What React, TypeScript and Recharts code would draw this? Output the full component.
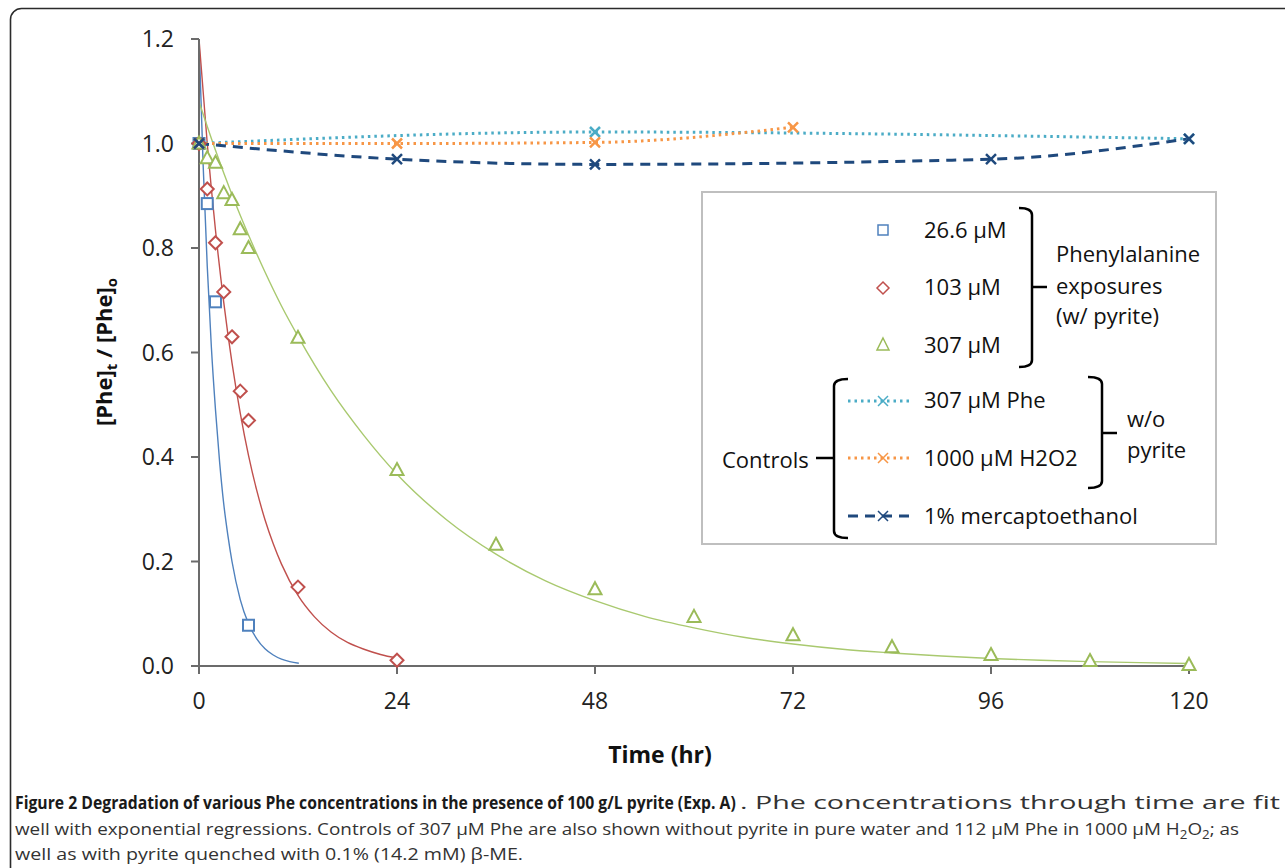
import React from 'react';
import { ComposedChart, Line, Scatter, XAxis, YAxis } from 'recharts';

// ---- Data ----
const xTicks = [0, 24, 48, 72, 96, 120];
const yTicks = [0, 0.2, 0.4, 0.6, 0.8, 1.0, 1.2];

// Observed points, w/ pyrite
const obsT26 = [0, 1, 2, 6];
const obsV26 = [1.0, 0.885, 0.697, 0.078];
const obsT103 = [0, 1, 2, 3, 4, 5, 6, 12, 24];
const obsV103 = [1.0, 0.913, 0.81, 0.716, 0.63, 0.526, 0.47, 0.151, 0.011];
const obsT307 = [0, 1, 2, 3, 4, 5, 6, 12, 24, 36, 48, 60, 72, 84, 96, 108, 120];
const obsV307 = [1.0, 0.972, 0.963, 0.905, 0.892, 0.836, 0.8, 0.628, 0.375, 0.232, 0.147, 0.094, 0.059, 0.036, 0.021, 0.0096, 0.002];

// Fitted (exponential) trend curves
const fitT26 = [0, 0.5, 1, 1.5, 2, 2.5, 3, 3.5, 4, 5, 6, 7, 8, 9, 10, 11, 12.1];
const fitV26 = [1.2, 0.96, 0.765, 0.61, 0.49, 0.39, 0.31, 0.25, 0.2, 0.127, 0.081, 0.052, 0.033, 0.021, 0.013, 0.0085, 0.0052];
const fitT103 = [0, 1, 2, 3, 4, 5, 6, 7, 8, 9, 10, 12, 14, 16, 18, 20, 22, 24];
const fitV103 = [1.2, 1.0, 0.834, 0.696, 0.58, 0.484, 0.403, 0.336, 0.28, 0.234, 0.195, 0.135, 0.094, 0.065, 0.045, 0.032, 0.022, 0.015];
const fitT307 = [0, 2, 4, 6, 8, 10, 12, 16, 20, 24, 30, 36, 42, 48, 54, 60, 66, 72, 78, 84, 90, 96, 102, 108, 114, 120];
const fitV307 = [1.08, 0.987, 0.902, 0.825, 0.754, 0.689, 0.631, 0.527, 0.441, 0.367, 0.28, 0.214, 0.163, 0.125, 0.095, 0.073, 0.055, 0.042, 0.032, 0.025, 0.019, 0.0143, 0.011, 0.0084, 0.0064, 0.0049];

// Controls (w/o pyrite, and with mercaptoethanol)
const ctrlPheT = [0, 48, 120];
const ctrlPheV = [1.0, 1.022, 1.009];
const ctrlH2O2T = [0, 24, 48, 72];
const ctrlH2O2V = [1.0, 1.0, 1.002, 1.031];
const ctrlMeT = [0, 24, 48, 96, 120];
const ctrlMeV = [1.0, 0.97, 0.96, 0.97, 1.009];

const zip = (ts: number[], vs: number[]) => ts.map((t, i) => ({ t, y: vs[i] }));

const C_BLUE = '#4f81bd';
const C_RED = '#c0504d';
const C_GREEN = '#9bbb59';
const C_LBLUE = '#4bacc6';
const C_ORANGE = '#f79646';
const C_DBLUE = '#1f497d';

const FONT = '"Open Sans", "Noto Sans", sans-serif';

const squareShape = (p: any) => {
  const { cx, cy } = p;
  if (cx == null || cy == null) return <g />;
  return <rect x={cx - 5.5} y={cy - 5.5} width={11} height={11} fill="#fff" stroke={C_BLUE} strokeWidth={2} />;
};
const diamondShape = (p: any) => {
  const { cx, cy } = p;
  if (cx == null || cy == null) return <g />;
  const r = 6.5;
  return <path d={`M${cx} ${cy - r}L${cx + r} ${cy}L${cx} ${cy + r}L${cx - r} ${cy}Z`} fill="#fff" stroke={C_RED} strokeWidth={2} />;
};
const triangleShape = (p: any) => {
  const { cx, cy } = p;
  if (cx == null || cy == null) return <g />;
  return <path d={`M${cx} ${cy - 7}L${cx + 6.5} ${cy + 5}L${cx - 6.5} ${cy + 5}Z`} fill="#fff" stroke={C_GREEN} strokeWidth={2} />;
};

const XMark = ({ cx, cy, color, s = 5, w = 2.5 }: any) => (
  <path d={`M${cx - s} ${cy - s}L${cx + s} ${cy + s}M${cx - s} ${cy + s}L${cx + s} ${cy - s}`} stroke={color} strokeWidth={w} fill="none" />
);

const xDot = (color: string) => (p: any) => {
  if (p.cx == null || p.cy == null) return <g key={p.key ?? p.index} />;
  return <XMark key={p.key ?? p.index} cx={p.cx} cy={p.cy} color={color} />;
};

const axisStyle = { stroke: '#6b6b6b', strokeWidth: 2 };
const tickStyle = { fill: '#222', fontSize: 23, fontFamily: FONT };

const Overlay = () => {
  const lt = { fontFamily: FONT, fontSize: 22, fill: '#111' } as any;
  const br = { stroke: '#000', strokeWidth: 2.5, fill: 'none' } as any;
  return (
    <svg width={1285} height={868} style={{ position: 'absolute', left: 0, top: 0, pointerEvents: 'none' }}>
      <rect x={10.5} y={8.5} width={1320} height={920} rx={11} fill="none" stroke="#2b2b2b" strokeWidth={1.6} />
      {/* axis titles */}
      <text transform="translate(112,352) rotate(-90)" textAnchor="middle" fontFamily={FONT} fontWeight={700} fontSize={22} fill="#111">
        [Phe]<tspan fontSize={15} dy={5}>t</tspan><tspan dy={-5}> / [Phe]</tspan><tspan fontSize={15} dy={5}>o</tspan>
      </text>
      <text x={660} y={763} textAnchor="middle" fontFamily={FONT} fontWeight={700} fontSize={23} fill="#111">Time (hr)</text>

      {/* legend box */}
      <rect x={702} y={192} width={514} height={352} fill="#fff" stroke="#bfbfbf" strokeWidth={2} />
      <rect x={878} y={225} width={10} height={10} fill="#fff" stroke={C_BLUE} strokeWidth={1.5} />
      <path d="M883 282L889 288L883 294L877 288Z" fill="#fff" stroke={C_RED} strokeWidth={1.5} />
      <path d="M883 338L889 350L877 350Z" fill="#fff" stroke={C_GREEN} strokeWidth={1.5} />
      <text x={924} y={238} {...lt}>26.6 µM</text>
      <text x={924} y={295} {...lt}>103 µM</text>
      <text x={924} y={353} {...lt}>307 µM</text>
      <path d="M1019 208Q1032 208 1032 215L1032 360Q1032 367 1019 367" {...br} />
      <path d="M1032 287L1047 287" {...br} />
      <text x={1056} y={262} {...lt}>Phenylalanine</text>
      <text x={1056} y={294} {...lt}>exposures</text>
      <text x={1056} y={324} {...lt}>(w/ pyrite)</text>

      <line x1={848} y1={401} x2={913} y2={401} stroke={C_LBLUE} strokeWidth={3} strokeDasharray="2.5 4" />
      <XMark cx={883} cy={401} color={C_LBLUE} s={5} w={1.5} />
      <line x1={848} y1={458} x2={913} y2={458} stroke={C_ORANGE} strokeWidth={3} strokeDasharray="2.5 4" />
      <XMark cx={883} cy={458} color={C_ORANGE} s={5} w={1.5} />
      <line x1={848} y1={516} x2={913} y2={516} stroke={C_DBLUE} strokeWidth={3} strokeDasharray="10 7" />
      <XMark cx={883} cy={516} color={C_DBLUE} s={5} w={1.5} />
      <text x={924} y={408} {...lt}>307 µM Phe</text>
      <text x={924} y={466} {...lt}>1000 µM H2O2</text>
      <text x={924} y={524} {...lt}>1% mercaptoethanol</text>
      <path d="M848 379Q834 379 834 386L834 531Q834 538 848 538" {...br} />
      <path d="M834 458L816 458" {...br} />
      <text x={722} y={468} {...lt}>Controls</text>
      <path d="M1088 377Q1102 377 1102 384L1102 481Q1102 488 1088 488" {...br} />
      <path d="M1102 433L1117 433" {...br} />
      <text x={1127} y={427} {...lt}>w/o</text>
      <text x={1127} y={458} {...lt}>pyrite</text>

      {/* caption */}
      <g transform="translate(15,809) scale(0.8,1)">
        <text x={0} y={0} textLength={901} lengthAdjust="spacingAndGlyphs" fontFamily={FONT} fontWeight={700} fontSize={17} fill="#1a1a1a">
          Figure 2 Degradation of various Phe concentrations in the presence of 100 g/L pyrite (Exp. A)
        </text>
      </g>
      <text x={740} y={809} textLength={540} lengthAdjust="spacingAndGlyphs" fontFamily={FONT} fontSize={18} fill="#333">
        . Phe concentrations through time are fit
      </text>
      <text x={15} y={835} textLength={1224} lengthAdjust="spacingAndGlyphs" fontFamily={FONT} fontSize={17} fill="#333">
        well with exponential regressions. Controls of 307 µM Phe are also shown without pyrite in pure water and 112 µM Phe in 1000 µM H<tspan fontSize={12} dy={4}>2</tspan><tspan dy={-4}>O</tspan><tspan fontSize={12} dy={4}>2</tspan><tspan dy={-4}>; as</tspan>
      </text>
      <text x={15} y={860} textLength={508} lengthAdjust="spacingAndGlyphs" fontFamily={FONT} fontSize={17} fill="#333">
        well as with pyrite quenched with 0.1% (14.2 mM) β-ME.
      </text>
    </svg>
  );
};

export default function App() {
  return (
    <div style={{ position: 'absolute', left: 0, top: 0, width: 1285, height: 868, background: '#fff', overflow: 'hidden' }}>
      <ComposedChart width={1285} height={868} margin={{ top: 39, right: 96, bottom: 162, left: 139 }}>
        <XAxis
          type="number"
          dataKey="t"
          domain={[0, 120]}
          ticks={xTicks}
          height={40}
          tickSize={8}
          tickMargin={19}
          axisLine={axisStyle}
          tickLine={axisStyle}
          tick={tickStyle}
          interval={0}
        />
        <YAxis
          type="number"
          dataKey="y"
          domain={[0, 1.2]}
          ticks={yTicks}
          width={60}
          tickSize={8}
          tickMargin={17}
          axisLine={axisStyle}
          tickLine={axisStyle}
          tick={tickStyle}
          interval={0}
          tickFormatter={(v: number) => v.toFixed(1)}
        />
        <Line data={zip(fitT26, fitV26)} dataKey="y" type="monotone" stroke={C_BLUE} strokeWidth={1.4} dot={false} activeDot={false} isAnimationActive={false} />
        <Line data={zip(fitT103, fitV103)} dataKey="y" type="monotone" stroke={C_RED} strokeWidth={1.4} dot={false} activeDot={false} isAnimationActive={false} />
        <Line data={zip(fitT307, fitV307)} dataKey="y" type="monotone" stroke="#a9c96f" strokeWidth={1.4} dot={false} activeDot={false} isAnimationActive={false} />
        <Scatter data={zip(obsT26, obsV26)} dataKey="y" shape={squareShape} isAnimationActive={false} />
        <Scatter data={zip(obsT103, obsV103)} dataKey="y" shape={diamondShape} isAnimationActive={false} />
        <Scatter data={zip(obsT307, obsV307)} dataKey="y" shape={triangleShape} isAnimationActive={false} />
        <Line data={zip(ctrlPheT, ctrlPheV)} dataKey="y" type="monotone" stroke={C_LBLUE} strokeWidth={3} strokeDasharray="2.5 4" dot={xDot(C_LBLUE)} activeDot={false} isAnimationActive={false} />
        <Line data={zip(ctrlH2O2T, ctrlH2O2V)} dataKey="y" type="monotone" stroke={C_ORANGE} strokeWidth={3} strokeDasharray="2.5 4" dot={xDot(C_ORANGE)} activeDot={false} isAnimationActive={false} />
        <Line data={zip(ctrlMeT, ctrlMeV)} dataKey="y" type="monotone" stroke={C_DBLUE} strokeWidth={3} strokeDasharray="10 7" dot={xDot(C_DBLUE)} activeDot={false} isAnimationActive={false} />
      </ComposedChart>
      <Overlay />
    </div>
  );
}
